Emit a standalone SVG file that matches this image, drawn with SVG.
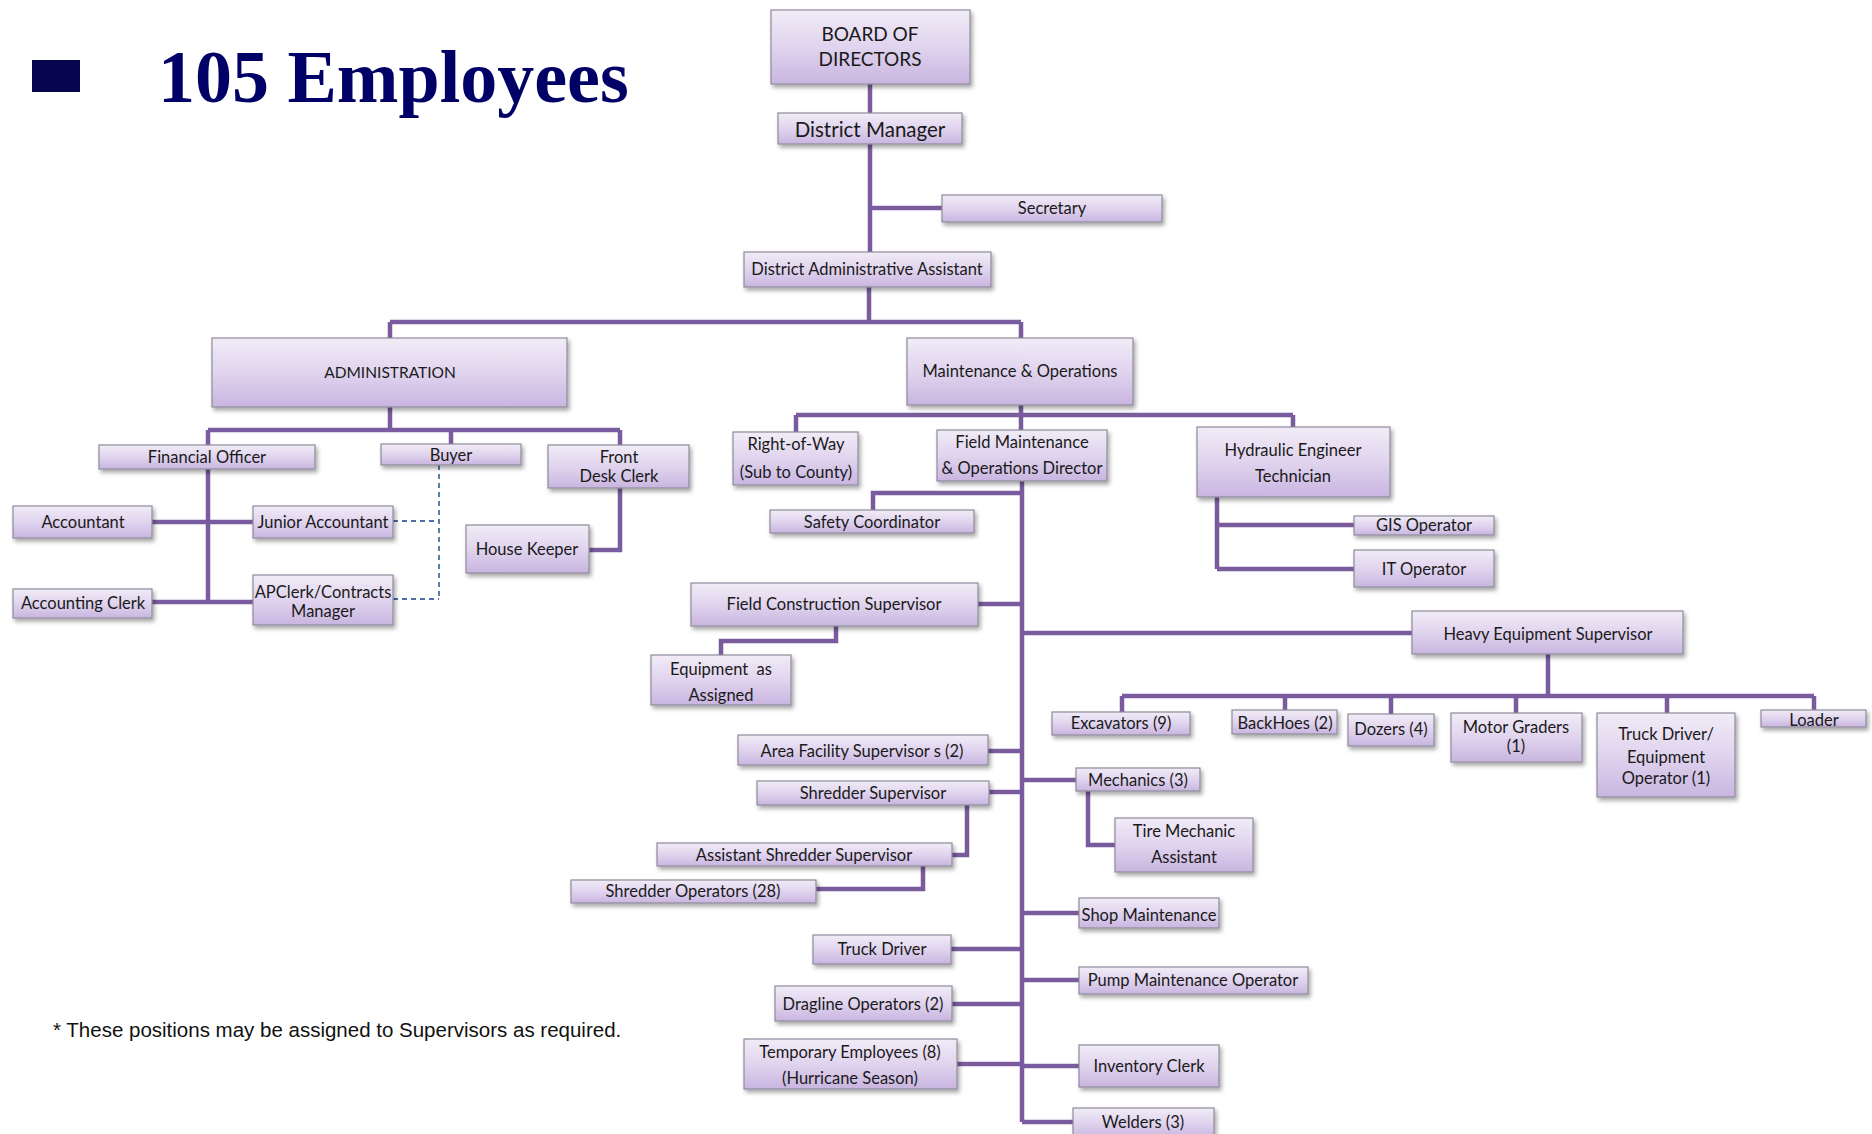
<svg xmlns="http://www.w3.org/2000/svg" width="1872" height="1134" viewBox="0 0 1872 1134">
<defs>
<linearGradient id="g" x1="0" y1="0" x2="0" y2="1">
<stop offset="0" stop-color="#F1ECF7"/>
<stop offset="0.5" stop-color="#E0D4EE"/>
<stop offset="1" stop-color="#C9B5E0"/>
</linearGradient>
<filter id="sh" x="-10%" y="-20%" width="125%" height="160%">
<feDropShadow dx="2" dy="3" stdDeviation="2" flood-color="#000" flood-opacity="0.35"/>
</filter>
<style>
.box{fill:url(#g);stroke:#8E8A9A;stroke-width:1.2;filter:url(#sh)}
.t{font-family:Lato,"Liberation Sans",sans-serif;font-size:16.5px;fill:#1A1A1A;text-anchor:middle;dominant-baseline:central}
.c{fill:none;stroke:#7A5C9E;stroke-width:4.5;stroke-linejoin:miter}
.d{fill:none;stroke:#4A6FA5;stroke-width:1.8;stroke-dasharray:5 4}
</style>
</defs>
<rect width="1872" height="1134" fill="#fff"/>
<g id="title">
<rect x="32" y="60" width="48" height="32" fill="#06064E"/>
<text x="158" y="102" font-family="'Liberation Serif',serif" font-weight="bold" font-size="74" fill="#000066">105 Employees</text>
</g>
<g id="connectors">
<path class="c" d="M870 84V113M870 144V252M870 208H942"/>
<path class="c" d="M869 287V322M390 322H1021M390 322V338M1021 322V338"/>
<path class="c" d="M390 407V430M208 430H620M208 430V445M451 430V444M620 430V445"/>
<path class="c" d="M208 469V602M152 522H253M152 602H253"/>
<path class="c" d="M620 488V550H589"/>
<path class="d" d="M439 465V599M393 521H439M393 599H439"/>
<path class="c" d="M1021 405V430M796 415H1293M796 415V432M1293 415V427"/>
<path class="c" d="M1217 497V569M1217 525H1354M1217 569H1354"/>
<path class="c" d="M1022 481V1122"/>
<path class="c" d="M1022 493H873V510"/>
<path class="c" d="M978 604H1022M836 626V641H721V655"/>
<path class="c" d="M1022 633H1412M1548 654V696M1122 696H1814M1122 696V712M1285 696V710M1391 696V714M1516 696V713M1667 696V713M1814 696V710"/>
<path class="c" d="M988 751H1022M989 792H1022M967 805V855H952M923 866V889H815"/>
<path class="c" d="M1022 780H1076M1088 791V845H1115"/>
<path class="c" d="M1022 913H1079M1022 980H1079M1022 1066H1079M1022 1122H1073"/>
<path class="c" d="M951 949H1022M952 1004H1022M957 1064H1022"/>
</g>
<g id="board"><rect class="box" x="771" y="10" width="199" height="74"/><text class="t" x="870" y="33" style="font-size:19px">BOARD OF</text><text class="t" x="870" y="58" style="font-size:19px">DIRECTORS</text></g>
<g id="district-manager"><rect class="box" x="778" y="113" width="184" height="31"/><text class="t" x="870" y="129" style="font-size:20.5px">District Manager</text></g>
<g id="secretary"><rect class="box" x="942" y="195" width="220" height="27"/><text class="t" x="1052" y="208">Secretary</text></g>
<g id="daa"><rect class="box" x="744" y="252" width="247" height="35"/><text class="t" x="867" y="269">District Administrative Assistant</text></g>
<g id="administration"><rect class="box" x="212" y="338" width="355" height="69"/><text class="t" x="390" y="372" style="font-size:15.5px">ADMINISTRATION</text></g>
<g id="mo"><rect class="box" x="907" y="338" width="226" height="67"/><text class="t" x="1020" y="371">Maintenance &amp; Operations</text></g>
<g id="financial-officer"><rect class="box" x="99" y="445" width="216" height="24"/><text class="t" x="207" y="457">Financial Officer</text></g>
<g id="buyer"><rect class="box" x="381" y="444" width="140" height="21"/><text class="t" x="451" y="455">Buyer</text></g>
<g id="front-desk"><rect class="box" x="548" y="445" width="141" height="43"/><text class="t" x="619" y="457">Front</text><text class="t" x="619" y="476">Desk Clerk</text></g>
<g id="accountant"><rect class="box" x="13" y="506" width="139" height="32"/><text class="t" x="83" y="522">Accountant</text></g>
<g id="junior-accountant"><rect class="box" x="253" y="506" width="140" height="32"/><text class="t" x="323" y="522">Junior Accountant</text></g>
<g id="house-keeper"><rect class="box" x="466" y="525" width="123" height="48"/><text class="t" x="527" y="549">House Keeper</text></g>
<g id="accounting-clerk"><rect class="box" x="13" y="589" width="139" height="29"/><text class="t" x="83" y="603">Accounting Clerk</text></g>
<g id="apclerk"><rect class="box" x="253" y="575" width="140" height="50"/><text class="t" x="323" y="592">APClerk/Contracts</text><text class="t" x="323" y="611">Manager</text></g>
<g id="right-of-way"><rect class="box" x="733" y="432" width="125" height="53"/><text class="t" x="796" y="444">Right-of-Way</text><text class="t" x="796" y="472">(Sub to County)</text></g>
<g id="fmod"><rect class="box" x="937" y="430" width="170" height="51"/><text class="t" x="1022" y="442">Field Maintenance</text><text class="t" x="1022" y="468">&amp; Operations Director</text></g>
<g id="hydraulic"><rect class="box" x="1197" y="427" width="193" height="70"/><text class="t" x="1293" y="450">Hydraulic Engineer</text><text class="t" x="1293" y="476">Technician</text></g>
<g id="gis"><rect class="box" x="1354" y="516" width="140" height="19"/><text class="t" x="1424" y="525">GIS Operator</text></g>
<g id="it"><rect class="box" x="1354" y="550" width="140" height="37"/><text class="t" x="1424" y="569">IT Operator</text></g>
<g id="safety"><rect class="box" x="770" y="510" width="204" height="23"/><text class="t" x="872" y="522">Safety Coordinator</text></g>
<g id="fcs"><rect class="box" x="691" y="583" width="287" height="43"/><text class="t" x="834" y="604">Field Construction Supervisor</text></g>
<g id="equipment"><rect class="box" x="651" y="655" width="140" height="50"/><text class="t" x="721" y="669" xml:space="preserve">Equipment  as</text><text class="t" x="721" y="695">Assigned</text></g>
<g id="hes"><rect class="box" x="1412" y="611" width="271" height="43"/><text class="t" x="1548" y="634">Heavy Equipment Supervisor</text></g>
<g id="excavators"><rect class="box" x="1052" y="712" width="138" height="23"/><text class="t" x="1121" y="723">Excavators (9)</text></g>
<g id="backhoes"><rect class="box" x="1232" y="710" width="105" height="24"/><text class="t" x="1285" y="723">BackHoes (2)</text></g>
<g id="dozers"><rect class="box" x="1348" y="714" width="86" height="32"/><text class="t" x="1391" y="729">Dozers (4)</text></g>
<g id="motor-graders"><rect class="box" x="1451" y="713" width="131" height="49"/><text class="t" x="1516" y="727">Motor Graders</text><text class="t" x="1516" y="746">(1)</text></g>
<g id="truck-equip"><rect class="box" x="1597" y="713" width="138" height="84"/><text class="t" x="1666" y="734">Truck Driver/</text><text class="t" x="1666" y="757">Equipment</text><text class="t" x="1666" y="778">Operator (1)</text></g>
<g id="loader"><rect class="box" x="1761" y="710" width="105" height="17"/><text class="t" x="1814" y="720">Loader</text></g>
<g id="area-facility"><rect class="box" x="738" y="735" width="250" height="30"/><text class="t" x="862" y="751">Area Facility Supervisor s (2)</text></g>
<g id="shredder-supervisor"><rect class="box" x="757" y="781" width="232" height="24"/><text class="t" x="873" y="793">Shredder Supervisor</text></g>
<g id="ass"><rect class="box" x="657" y="843" width="295" height="23"/><text class="t" x="804" y="855">Assistant Shredder Supervisor</text></g>
<g id="shredder-ops"><rect class="box" x="571" y="880" width="245" height="23"/><text class="t" x="693" y="891">Shredder Operators (28)</text></g>
<g id="mechanics"><rect class="box" x="1076" y="768" width="124" height="23"/><text class="t" x="1138" y="780">Mechanics (3)</text></g>
<g id="tire-mechanic"><rect class="box" x="1115" y="818" width="138" height="54"/><text class="t" x="1184" y="831">Tire Mechanic</text><text class="t" x="1184" y="857">Assistant</text></g>
<g id="shop"><rect class="box" x="1079" y="898" width="140" height="30"/><text class="t" x="1149" y="915">Shop Maintenance</text></g>
<g id="truck-driver"><rect class="box" x="813" y="935" width="138" height="29"/><text class="t" x="882" y="949">Truck Driver</text></g>
<g id="pump"><rect class="box" x="1079" y="967" width="229" height="27"/><text class="t" x="1193" y="980">Pump Maintenance Operator</text></g>
<g id="dragline"><rect class="box" x="775" y="986" width="177" height="35"/><text class="t" x="863" y="1004">Dragline Operators (2)</text></g>
<g id="temporary"><rect class="box" x="744" y="1039" width="213" height="50"/><text class="t" x="850" y="1052">Temporary Employees (8)</text><text class="t" x="850" y="1078">(Hurricane Season)</text></g>
<g id="inventory"><rect class="box" x="1079" y="1045" width="140" height="42"/><text class="t" x="1149" y="1066">Inventory Clerk</text></g>
<g id="welders"><rect class="box" x="1073" y="1108" width="141" height="30"/><text class="t" x="1143" y="1122">Welders (3)</text></g>
<g id="footnote"><text x="53" y="1037" font-family="'Liberation Sans',Arial,sans-serif" font-size="20.5" fill="#111">* These positions may be assigned to Supervisors as required.</text></g>
</svg>
